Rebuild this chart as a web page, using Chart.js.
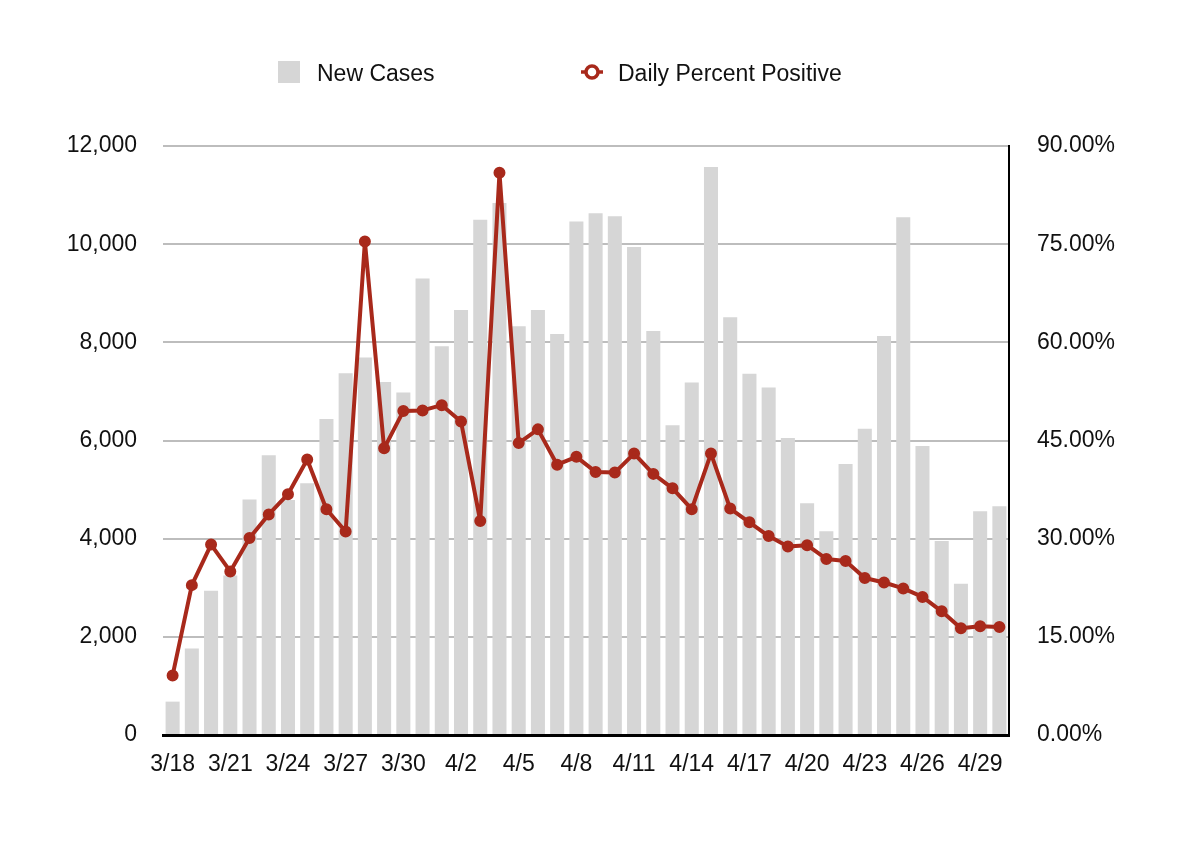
<!DOCTYPE html>
<html lang="en">
<head>
  <meta charset="UTF-8">
  <title>New Cases and Daily Percent Positive</title>
  <script src="https://cdn.jsdelivr.net/npm/chart.js"></script>
  <style>
    body {
      margin: 0;
      background: #fff;
      font-family: "Liberation Sans", Arial, sans-serif;
    }

    #wrap {
      position: relative;
      width: 1200px;
      height: 861px;
    }

    #legend {
      position: absolute;
      top: 58px;
      left: 0;
      width: 1200px;
      height: 30px;
      font-size: 23px;
      color: #111;
    }

    .item {
      position: absolute;
      top: 0;
      height: 30px;
      line-height: 30px;
      white-space: nowrap;
    }

    .swatch {
      position: absolute;
      top: 3px;
      left: 0;
      width: 22px;
      height: 22px;
      background: #d6d6d6;
    }
  </style>
</head>
<body>

  <div id="wrap">
    <canvas id="casesChart" width="1200" height="861"></canvas>
    <div id="legend">
      <div class="item" style="left:278px">
        <span class="swatch"></span>
        <span style="margin-left:39px">New Cases</span>
      </div>
      <div class="item" style="left:581px">
        <svg width="22" height="22" style="position:absolute;top:3px;left:0">
          <line x1="0" y1="11" x2="22" y2="11" stroke="#a8291b" stroke-width="3.5"/>
          <circle cx="11" cy="11" r="6" fill="#fff" stroke="#a8291b" stroke-width="3.5"/>
        </svg>
        <span style="margin-left:37px">Daily Percent Positive</span>
      </div>
    </div>
  </div>

  <script>
    const dates = [
      "3/18", "3/19", "3/20", "3/21", "3/22", "3/23", "3/24", "3/25", "3/26", "3/27",
      "3/28", "3/29", "3/30", "3/31", "4/1", "4/2", "4/3", "4/4", "4/5", "4/6",
      "4/7", "4/8", "4/9", "4/10", "4/11", "4/12", "4/13", "4/14", "4/15", "4/16",
      "4/17", "4/18", "4/19", "4/20", "4/21", "4/22", "4/23", "4/24", "4/25", "4/26",
      "4/27", "4/28", "4/29", "4/30"
    ];

    const newCases = [
      680, 1760, 2940, 3250, 4800, 5700, 4790, 5130, 6440, 7370,
      7690, 7190, 6980, 9300, 7920, 8660, 10500, 10840, 8330, 8660,
      8170, 10460, 10630, 10570, 9940, 8230, 6310, 7180, 11570, 8510,
      7360, 7080, 6050, 4720, 4150, 5520, 6240, 8130, 10550, 5890,
      3950, 3080, 4560, 4660
    ];

    const percentPositive = [
      9.1, 22.9, 29.1, 25.0, 30.1, 33.7, 36.8, 42.1, 34.5, 31.1,
      75.4, 43.8, 49.5, 49.6, 50.4, 47.9, 32.7, 85.9, 44.6, 46.7,
      41.3, 42.5, 40.2, 40.1, 43.0, 39.9, 37.7, 34.5, 43.0, 34.6,
      32.5, 30.4, 28.8, 29.0, 26.9, 26.6, 24.0, 23.3, 22.4, 21.1,
      18.9, 16.3, 16.6, 16.5
    ];

    const leftTicks = [0, 2000, 4000, 6000, 8000, 10000, 12000];
    const rightTicks = [0, 15, 30, 45, 60, 75, 90];

    const lineRed = '#a8291b';
    const tickFont = { family: '"Liberation Sans", Arial, sans-serif', size: 23 };

    const ctx = document.getElementById('casesChart').getContext('2d');
    new Chart(ctx, {
      data: {
        labels: dates,
        datasets: [
          {
            type: 'line',
            label: 'Daily Percent Positive',
            data: percentPositive,
            yAxisID: 'y1',
            borderColor: lineRed,
            backgroundColor: lineRed,
            borderWidth: 4,
            borderJoinStyle: 'round',
            borderCapStyle: 'round',
            pointRadius: 4,
            pointBackgroundColor: lineRed,
            pointBorderColor: lineRed,
            tension: 0,
            order: 0
          },
          {
            type: 'bar',
            label: 'New Cases',
            data: newCases,
            yAxisID: 'y',
            backgroundColor: '#d6d6d6',
            barPercentage: 0.73,
            categoryPercentage: 1,
            order: 1
          }
        ]
      },
      options: {
        responsive: false,
        animation: false,
        layout: { padding: { top: 146, left: 0, right: 0, bottom: 0 } },
        plugins: {
          legend: { display: false },
          tooltip: { enabled: false }
        },
        scales: {
          x: {
            grid: { display: false },
            border: { display: true, color: '#000', width: 3 },
            ticks: {
              autoSkip: false,
              maxRotation: 0,
              minRotation: 0,
              padding: 8,
              color: '#111',
              font: tickFont,
              callback: function (value, index) {
                return index % 3 === 0 ? dates[index] : '';
              }
            },
            afterFit: function (scale) { scale.height = 126; }
          },
          y: {
            position: 'left',
            min: 0,
            max: 12000,
            afterBuildTicks: function (scale) {
              scale.ticks = leftTicks.map(v => ({ value: v }));
            },
            grid: { color: '#bdbdbd', lineWidth: 2, drawTicks: false },
            border: { display: false },
            ticks: {
              padding: 26,
              color: '#111',
              font: tickFont,
              callback: value => value.toLocaleString('en-US')
            },
            afterFit: function (scale) { scale.width = 163; }
          },
          y1: {
            position: 'right',
            min: 0,
            max: 90,
            afterBuildTicks: function (scale) {
              scale.ticks = rightTicks.map(v => ({ value: v }));
            },
            grid: { drawOnChartArea: false, drawTicks: false },
            border: { display: true, color: '#000', width: 2 },
            ticks: {
              padding: 28,
              color: '#111',
              font: tickFont,
              callback: value => value.toFixed(2) + '%'
            },
            afterFit: function (scale) { scale.width = 191; }
          }
        }
      }
    });
  </script>

</body>
</html>
